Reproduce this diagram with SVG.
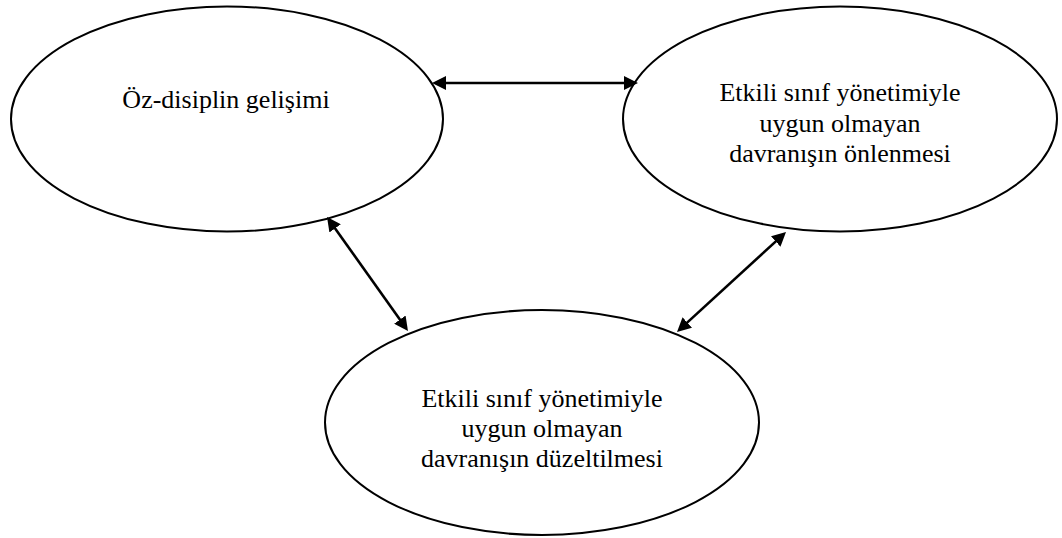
<svg xmlns="http://www.w3.org/2000/svg" width="1062" height="538" viewBox="0 0 1062 538">
<style>
.node ellipse{fill:#ffffff;stroke:#000000;stroke-width:2}
.node text{font-family:"Liberation Serif","Times New Roman",serif;font-size:26px;fill:#000000;text-anchor:middle}
.conn line{stroke:#000000;stroke-width:2.6;fill:none;marker-start:url(#ah);marker-end:url(#ah)}
</style>
<defs>
<marker id="ah" viewBox="0 0 14 14" refX="8" refY="7" markerWidth="14" markerHeight="14" markerUnits="userSpaceOnUse" orient="auto-start-reverse">
<path d="M0,0 L14,7 L0,14 z" fill="#000000"/>
</marker>
</defs>
<rect width="1062" height="538" fill="#ffffff"/>
<g id="node-ozdisiplin" class="node">
<ellipse cx="227" cy="119" rx="216" ry="112.5"/>
<text x="226" y="108">Öz-disiplin gelişimi</text>
</g>
<g id="node-onleme" class="node">
<ellipse cx="840" cy="119" rx="217" ry="112.5"/>
<text x="840" y="101">Etkili sınıf yönetimiyle</text>
<text x="840" y="132">uygun olmayan</text>
<text x="840" y="162">davranışın önlenmesi</text>
</g>
<g id="node-duzeltme" class="node">
<ellipse cx="542" cy="422.5" rx="217" ry="112.5"/>
<text x="542" y="407">Etkili sınıf yönetimiyle</text>
<text x="542" y="437">uygun olmayan</text>
<text x="542" y="467">davranışın düzeltilmesi</text>
</g>
<g id="connectors" class="conn">
<line x1="438" y1="83" x2="632" y2="83"/>
<line x1="330.5" y1="221.9" x2="404.5" y2="326.1"/>
<line x1="781.6" y1="236.1" x2="681.4" y2="327.9"/>
</g>
</svg>
